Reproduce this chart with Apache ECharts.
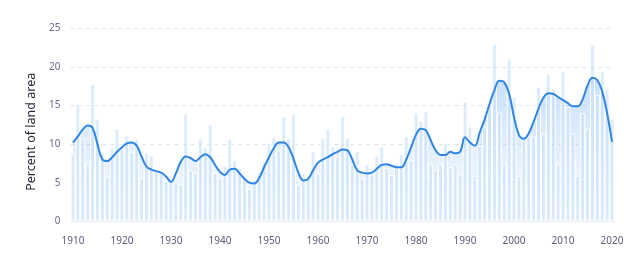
<!DOCTYPE html>
<html>
<head>
<meta charset="utf-8">
<script src="https://cdn.jsdelivr.net/npm/echarts@6/dist/echarts.min.js"></script>
<style>
  html, body { margin: 0; padding: 0; background: #fff; }
  #main { width: 633px; height: 277px; }
</style>
</head>
<body>
<div id="main"></div>
<script>
// years 1910 - 2020
var years = [];
for (var y = 1910; y <= 2020; y++) years.push(String(y));

// annual percent of land area
var annual = [
  8.7, 15.2, 10.7, 7.4, 17.8, 13.2, 9.0, 5.8, 9.6, 12.0,
  9.4, 11.1, 9.0, 10.7, 5.6, 8.9, 8.5, 6.6, 6.3, 5.2,
  5.0, 5.0, 4.8, 14.0, 6.6, 6.3, 10.7, 9.6, 12.5, 6.3,
  5.6, 7.2, 10.7, 7.9, 6.9, 5.9, 4.2, 5.4, 6.4, 7.7,
  10.2, 11.0, 9.2, 13.6, 10.8, 14.0, 4.7, 6.2, 6.0, 9.1,
  6.2, 10.8, 12.0, 9.7, 8.4, 13.6, 10.8, 7.4, 9.1, 5.5,
  7.4, 6.2, 8.5, 9.7, 6.9, 6.0, 7.6, 8.7, 11.0, 7.9,
  14.1, 13.0, 14.3, 7.4, 6.6, 7.4, 10.1, 7.0, 7.4, 6.1,
  15.5, 12.3, 5.9, 9.8, 12.3, 15.2, 23.0, 14.1, 7.4, 21.1,
  16.1, 5.9, 11.0, 10.9, 11.0, 17.4, 11.4, 19.1, 17.2, 7.4,
  19.5, 14.8, 11.4, 5.9, 14.0, 12.0, 22.9, 16.4, 19.5, 17.2,
  13.3
];

// smoothed average
var smoothed = [
  10.2, 11.0, 11.9, 12.4, 12.1, 10.0, 8.0, 7.8, 8.3, 9.0,
  9.6, 10.1, 10.2, 9.8, 8.4, 7.1, 6.7, 6.5, 6.3, 5.8,
  5.1, 6.2, 7.7, 8.4, 8.2, 7.8, 8.3, 8.7, 8.3, 7.3,
  6.4, 6.0, 6.7, 6.8, 6.2, 5.5, 5.0, 4.9, 5.6, 7.0,
  8.3, 9.5, 10.2, 10.2, 9.6, 8.1, 6.3, 5.3, 5.5, 6.6,
  7.6, 8.0, 8.3, 8.7, 9.0, 9.3, 9.2, 8.0, 6.6, 6.3,
  6.2, 6.3, 6.8, 7.3, 7.4, 7.2, 7.0, 7.0, 8.0, 9.6,
  11.2, 12.0, 11.8, 10.5, 9.2, 8.6, 8.6, 9.0, 8.8, 9.0,
  10.9, 10.2, 9.8, 11.5, 13.2, 15.2, 17.0, 18.2, 18.0, 16.5,
  13.5, 11.2, 10.7, 11.4, 12.9, 14.6, 16.0, 16.6, 16.5, 16.1,
  15.7, 15.3, 14.9, 14.9, 15.8, 17.6, 18.6, 18.3, 16.8, 14.0,
  10.3
];

var yTicks = [0, 5, 10, 15, 20, 25];

var myChart = echarts.init(document.getElementById('main'));

option = {
  animation: false,
  grid: { left: 70.5, right: 18.5, top: 28.3, bottom: 55.7 },
  xAxis: {
    type: 'category',
    data: years,
    boundaryGap: true,
    axisLine: { lineStyle: { color: '#e4e6ef', width: 1 } },
    axisTick: { show: false },
    axisLabel: {
      interval: 9,
      margin: 15,
      color: '#5d5b7a',
      fontFamily: 'Noto Sans',
      fontSize: 10
    }
  },
  yAxis: {
    type: 'value',
    min: yTicks[0],
    max: yTicks[yTicks.length - 1],
    interval: 5,
    name: 'Percent of land area',
    nameLocation: 'middle',
    nameGap: 33,
    nameTextStyle: { color: '#2b2b3a', fontFamily: 'Noto Sans', fontSize: 12.5, padding: [0, 0, 0, -14] },
    axisLine: { show: false },
    axisTick: { show: false },
    axisLabel: {
      margin: 10,
      color: '#6a6890',
      fontFamily: 'Noto Sans',
      fontSize: 10,
      padding: [0, 0, 7, 0]
    },
    splitLine: { lineStyle: { color: '#e3e2ee', type: [4, 4], width: 1 } }
  },
  series: [
    {
      name: 'area',
      type: 'line',
      data: smoothed,
      smooth: 0.4,
      symbol: 'none',
      lineStyle: { width: 0 },
      areaStyle: {
        color: new echarts.graphic.LinearGradient(0, 0, 0, 1, [
          { offset: 0, color: 'rgba(100,165,245,0.50)' },
          { offset: 1, color: 'rgba(150,195,250,0.12)' }
        ])
      },
      z: 1
    },
    {
      name: 'annual',
      type: 'bar',
      data: annual,
      barCategoryGap: '0%',
      itemStyle: {
        color: 'rgba(198,224,252,0.6)',
        borderColor: '#ffffff',
        borderWidth: 1
      },
      z: 2
    },
    {
      name: 'smoothed',
      type: 'line',
      data: smoothed,
      smooth: 0.4,
      symbol: 'none',
      lineStyle: { color: '#2f86e6', width: 2 },
      z: 3
    }
  ]
};

myChart.setOption(option);
</script>
</body>
</html>
